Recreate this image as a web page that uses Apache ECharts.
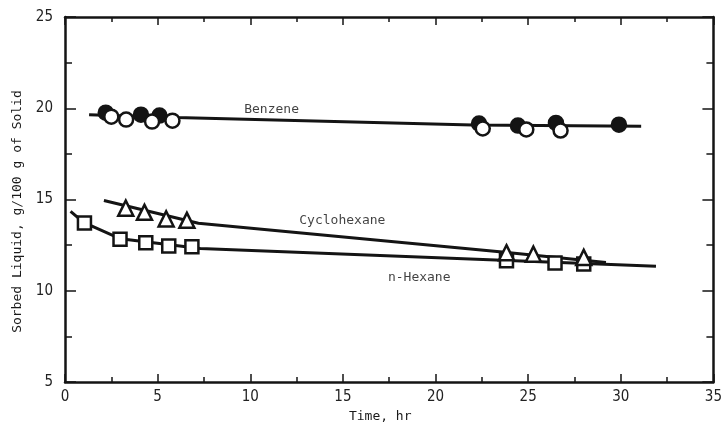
<!DOCTYPE html>
<html>
<head>
<meta charset="utf-8">
<script src="https://cdn.jsdelivr.net/npm/echarts@6/dist/echarts.min.js"></script>
<style>html,body{margin:0;padding:0;background:#fff}#c{width:725px;height:428px}</style>
</head>
<body>
<div id="c"></div>
<script>
// Benzene
const benzeneFilledT = [2.2, 4.1, 5.1, 22.35, 24.45, 26.5, 29.9];
const benzeneFilledY = [19.76, 19.65, 19.6, 19.16, 19.05, 19.2, 19.1];
const benzeneOpenT = [2.5, 3.3, 4.7, 5.8, 22.55, 24.9, 26.75];
const benzeneOpenY = [19.54, 19.38, 19.27, 19.32, 18.89, 18.84, 18.78];
const benzeneLineT = [1.3, 6.0, 22.0, 31.1];
const benzeneLineY = [19.65, 19.5, 19.08, 19.02];
// Cyclohexane
const cycloT = [3.28, 4.29, 5.46, 6.58, 23.83, 25.28, 28.0];
const cycloY = [14.53, 14.3, 13.94, 13.86, 12.09, 12.01, 11.83];
const cycloLineT = [2.1, 7.2, 23.6, 29.2];
const cycloLineY = [14.95, 13.7, 12.13, 11.55];
// n-Hexane
const hexT = [1.05, 2.97, 4.36, 5.6, 6.85, 23.83, 26.45, 28.0];
const hexY = [13.72, 12.82, 12.64, 12.46, 12.42, 11.65, 11.52, 11.47];
const hexLineT = [0.3, 1.0, 3.0, 7.3, 23.6, 31.9];
const hexLineY = [14.35, 13.75, 12.85, 12.32, 11.67, 11.34];
// Curve labels
const labelText = ['Benzene', 'Cyclohexane', 'n-Hexane'];
const labelT = [11.15, 14.97, 19.12];
const labelY = [19.9, 13.86, 10.73];
// Axes
const xMin = 0, xMax = 35, xStep = 5;
const yMin = 5, yMax = 25, yStep = 5;

const zip = (a, b) => a.map((v, i) => [v, b[i]]);
const ink = '#141414';
const tickFont = '"Liberation Sans Narrow","DejaVu Sans Condensed","Liberation Sans",sans-serif';
const monoFont = '"DejaVu Sans Mono","Liberation Mono",monospace';

const lineSeries = (t, y) => ({
  type: 'line', data: zip(t, y), showSymbol: false, symbol: 'none',
  lineStyle: {color: ink, width: 3}, silent: true, z: 2, animation: false
});
const markerSeries = (t, y, symbol, size, filled) => ({
  type: 'scatter', data: zip(t, y), symbol: symbol, symbolSize: size,
  itemStyle: {color: filled ? ink : '#fff', borderColor: ink, borderWidth: 2.5, opacity: 1},
  z: 3, animation: false
});

const baseAxis = {
  axisLine: {show: true, onZero: false, lineStyle: {color: ink, width: 2.5}},
  splitLine: {show: false}
};

const option = {
  backgroundColor: '#fff',
  animation: false,
  grid: {left: 65, right: 9, top: 17, bottom: 40},
  xAxis: [
    Object.assign({}, baseAxis, {
      type: 'value', min: xMin, max: xMax, interval: xStep, position: 'bottom',
      name: 'Time, hr', nameLocation: 'middle', nameGap: 25,
      nameTextStyle: {fontFamily: monoFont, fontSize: 13, color: '#1a1a1a', padding: [0, 18, 0, 0]},
      axisTick: {inside: true, length: 8, lineStyle: {color: ink, width: 1.5}},
      minorTick: {show: true, splitNumber: 2, length: 5, lineStyle: {color: ink, width: 1.5}},
      axisLabel: {fontFamily: tickFont, fontSize: 15, color: '#222', margin: 8}
    }),
    Object.assign({}, baseAxis, {
      type: 'value', min: xMin, max: xMax, interval: xStep, position: 'top',
      axisTick: {inside: true, length: 8, lineStyle: {color: ink, width: 1.5}},
      minorTick: {show: true, splitNumber: 2, length: 5, lineStyle: {color: ink, width: 1.5}},
      axisLabel: {show: false}
    })
  ],
  yAxis: [
    Object.assign({}, baseAxis, {
      type: 'value', min: yMin, max: yMax, interval: yStep, position: 'left',
      name: 'Sorbed Liquid, g/100 g of Solid', nameLocation: 'middle', nameGap: 41,
      nameTextStyle: {fontFamily: monoFont, fontSize: 13, color: '#1a1a1a', padding: [0, 24, 0, 0]},
      axisTick: {inside: true, length: 11, lineStyle: {color: ink, width: 1.5}},
      minorTick: {show: true, splitNumber: 2, length: 7, lineStyle: {color: ink, width: 1.5}},
      axisLabel: {fontFamily: tickFont, fontSize: 15, color: '#222', margin: 12}
    }),
    Object.assign({}, baseAxis, {
      type: 'value', min: yMin, max: yMax, interval: yStep, position: 'right',
      axisTick: {inside: true, length: 11, lineStyle: {color: ink, width: 1.5}},
      minorTick: {show: true, splitNumber: 2, length: 7, lineStyle: {color: ink, width: 1.5}},
      axisLabel: {show: false}
    })
  ],
  series: [
    lineSeries(benzeneLineT, benzeneLineY),
    lineSeries(cycloLineT, cycloLineY),
    lineSeries(hexLineT, hexLineY),
    markerSeries(benzeneFilledT, benzeneFilledY, 'circle', 14, true),
    markerSeries(benzeneOpenT, benzeneOpenY, 'circle', 14, false),
    markerSeries(hexT, hexY, 'rect', 13, false),
    Object.assign(markerSeries(cycloT, cycloY, 'triangle', 15, false), {z: 4}),
    {
      type: 'scatter', symbolSize: 0, z: 5, silent: true,
      data: labelText.map((s, i) => ({value: [labelT[i], labelY[i]], name: s})),
      label: {show: true, position: 'inside', formatter: p => p.name,
        fontFamily: monoFont, fontSize: 13, color: '#111'}
    }
  ]
};
const chart = echarts.init(document.getElementById('c'), null, {renderer: 'canvas'});
chart.setOption(option);
</script>
</body>
</html>
